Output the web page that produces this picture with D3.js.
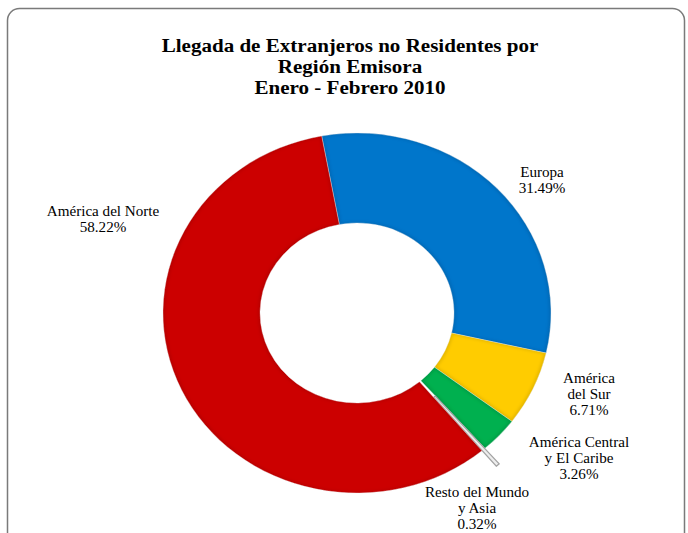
<!DOCTYPE html>
<html>
<head>
<meta charset="utf-8">
<script src="https://cdn.jsdelivr.net/npm/d3@7"></script>
<style>
html,body{margin:0;padding:0;background:#fff;}
svg{display:block;}
</style>
</head>
<body>
<svg id="chart" width="688" height="533"></svg>
<script>
// ---- data ----
const categories = ["Europa", "América del Sur", "América Central y El Caribe", "Resto del Mundo y Asia", "América del Norte"];
const values = [31.49, 6.71, 3.26, 0.32, 58.22];
const labelLines = [
  ["Europa"],
  ["América", "del Sur"],
  ["América Central", "y El Caribe"],
  ["Resto del Mundo", "y Asia"],
  ["América del Norte"]
];
const titleLines = ["Llegada de Extranjeros no Residentes  por", "Región Emisora", "Enero - Febrero 2010"];

// ---- styles / layout ----
const colors = ["#0676CB", "#FFCC00", "#00B050", "#EDEDED", "#CC0404"];
const labelPos = [[542, 177], [589, 383], [579, 447], [477, 497], [103, 216]];
const cx = 357, cy = 313, rOuter = 194, rInner = 97, yScale = 180 / 194;
const explode = [0, 0, 0, 22, 0];
const xStretch = 1.08;
const serif = "'Liberation Serif', 'Times New Roman', serif";

const svg = d3.select("#chart");

// frame
svg.append("rect")
  .attr("x", 7.5).attr("y", 8.5)
  .attr("width", 677).attr("height", 560)
  .attr("rx", 12).attr("ry", 12)
  .attr("fill", "none").attr("stroke", "#7a7a7a").attr("stroke-width", 1.5);

// title
const title = svg.append("text")
  .attr("text-anchor", "middle")
  .attr("transform", `translate(350,0) scale(${xStretch},1)`)
  .attr("font-family", serif)
  .attr("font-weight", "bold").attr("font-size", 19.5).attr("fill", "#000");
titleLines.forEach((t, i) => {
  title.append("tspan").attr("x", 0).attr("y", 52 + i * 21).text(t);
});

// bevel-like rim filter
const defs = svg.append("defs");
const f = defs.append("filter").attr("id", "bevel").attr("x", "-10%").attr("y", "-10%").attr("width", "120%").attr("height", "120%");
f.append("feMorphology").attr("in", "SourceAlpha").attr("operator", "erode").attr("radius", 1.5).attr("result", "er");
f.append("feGaussianBlur").attr("in", "er").attr("stdDeviation", 1.6).attr("result", "erb");
f.append("feComposite").attr("in", "SourceAlpha").attr("in2", "erb").attr("operator", "out").attr("result", "rim");
f.append("feFlood").attr("flood-color", "#000").attr("flood-opacity", 0.22).attr("result", "fl");
f.append("feComposite").attr("in", "fl").attr("in2", "rim").attr("operator", "in").attr("result", "rimc");
const mrg = f.append("feMerge");
mrg.append("feMergeNode").attr("in", "SourceGraphic");
mrg.append("feMergeNode").attr("in", "rimc");

// pie
const startDeg = -10.5;
const pie = d3.pie().sort(null).value(d => d)
  .startAngle(startDeg * Math.PI / 180)
  .endAngle((startDeg + 360) * Math.PI / 180);
const arcs = pie(values);
const arc = d3.arc().innerRadius(rInner).outerRadius(rOuter);

const g = svg.append("g").attr("transform", `translate(${cx},${cy}) scale(1,${yScale})`);
g.selectAll("path.slice")
  .data(arcs)
  .join("path")
  .attr("class", "slice")
  .attr("d", arc)
  .attr("fill", (d, i) => colors[i])
  .attr("stroke", (d, i) => i === 3 ? "#a3a3a3" : "rgba(255,255,255,0.45)")
  .attr("stroke-width", (d, i) => i === 3 ? 1.3 : 0.8)
  .attr("filter", (d, i) => i === 3 ? null : "url(#bevel)")
  .attr("transform", (d, i) => {
    const a = (d.startAngle + d.endAngle) / 2;
    return `translate(${Math.sin(a) * explode[i]},${-Math.cos(a) * explode[i]})`;
  });

// labels
const lab = svg.append("g")
  .attr("font-family", serif)
  .attr("font-size", 14).attr("fill", "#000").attr("text-anchor", "middle");
categories.forEach((c, i) => {
  const t = lab.append("text")
    .attr("transform", `translate(${labelPos[i][0]},0) scale(${xStretch},1)`);
  const lines = labelLines[i].concat([values[i].toFixed(2) + "%"]);
  lines.forEach((l, k) => {
    t.append("tspan").attr("x", 0).attr("y", labelPos[i][1] + k * 16).text(l);
  });
});
</script>
</body>
</html>
